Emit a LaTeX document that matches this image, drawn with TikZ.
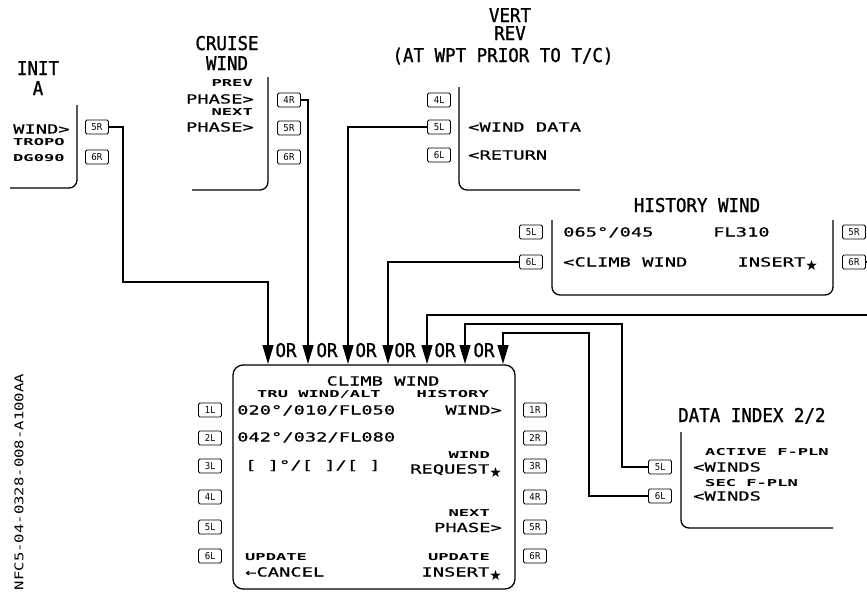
\documentclass[tikz,border=0pt]{standalone}
\usepackage{fontspec}
\usetikzlibrary{arrows.meta}
\newfontfamily\ttlf[FakeStretch=0.92,FakeBold=1.2]{DejaVu Sans Mono}
\newfontfamily\bdyf[FakeStretch=1.5,FakeBold=0.8]{DejaVu Sans Mono}
\newfontfamily\smlf[FakeStretch=1.8]{DejaVu Sans Mono}
\newfontfamily\lskf{DejaVu Sans Condensed}
\newfontfamily\symf{DejaVu Sans}
\newfontfamily\reff[FakeStretch=1.3]{DejaVu Sans Mono}
\newcommand\stx{\raisebox{-3.5pt}{\symf\fontsize{14}{14}\selectfont ★}}
\tikzset{
  ttl/.style={font=\ttlf\fontsize{19}{19}\selectfont, inner sep=0},
  bdy/.style={font=\bdyf\fontsize{12.5}{12.5}\selectfont, inner sep=0},
  sml/.style={font=\smlf\bfseries\fontsize{9.5}{9.5}\selectfont, inner sep=0},
  lsk/.style={draw, rounded corners=1.5pt, line width=0.9pt, minimum width=23pt,
    minimum height=14pt, inner sep=0, font=\lskf\fontsize{9.5}{9.5}\selectfont},
  panel/.style={line width=1.3pt, rounded corners=8pt},
  con/.style={line width=1.2pt},
  arr/.style={line width=1.2pt, -{Triangle[width=11pt,length=19pt]}},
}
\begin{document}
\begin{tikzpicture}[x=1pt,y=-1pt]
\useasboundingbox (0,0) rectangle (867,592);

% ---------- INIT A ----------
\node[ttl, anchor=base] (tInit) at (38,75) {INIT};
\node[ttl, anchor=base] (tInitA) at (38,95) {A};
\draw[panel] (77,105) -- (77,188) -- (10,188);
\node[bdy, anchor=base west] (iWind) at (13,133.5) {WIND>};
\node[sml, anchor=base west] (iTropo) at (13,145.5) {TROPO};
\node[sml, anchor=base west] (iDg) at (13,161.5) {DG090};
\node[lsk] (i5R) at (97,127) {5R};
\node[lsk] (i6R) at (97,157) {6R};

% ---------- CRUISE WIND ----------
\node[ttl, anchor=base] (tCru) at (227,50) {CRUISE};
\node[ttl, anchor=base] (tCruW) at (227,70) {WIND};
\draw[panel] (268,77) -- (268,190) -- (192,190);
\node[sml, anchor=base east] (cPrev) at (253,86.5) {PREV};
\node[bdy, anchor=base east] (cPh1) at (254,103.5) {PHASE>};
\node[sml, anchor=base east] (cNext) at (253,115.5) {NEXT};
\node[bdy, anchor=base east] (cPh2) at (254,131.5) {PHASE>};
\node[lsk] (c4R) at (289,100) {4R};
\node[lsk] (c5R) at (289,128) {5R};
\node[lsk] (c6R) at (289,157) {6R};

% ---------- VERT REV ----------
\node[ttl, anchor=base] (tVert) at (510,22) {VERT};
\node[ttl, anchor=base] (tRev) at (510,40) {REV};
\node[ttl, anchor=base] (tAt) at (503,62) {(AT WPT PRIOR TO T/C)};
\draw[panel] (459,87) -- (459,190) -- (580,190);
\node[lsk] (v4L) at (439,100) {4L};
\node[lsk] (v5L) at (439,127) {5L};
\node[lsk] (v6L) at (439,155) {6L};
\node[bdy, anchor=base west] (vWd) at (468,131.5) {<WIND DATA};
\node[bdy, anchor=base west] (vRet) at (468,159.5) {<RETURN};

% ---------- HISTORY WIND ----------
\node[ttl, anchor=base] (tHist) at (697,212) {HISTORY WIND};
\draw[panel] (552,220) -- (552,295) -- (833,295) -- (833,220);
\node[lsk] (h5L) at (531,232) {5L};
\node[lsk] (h6L) at (531,262) {6L};
\node[lsk] (h5R) at (854,232) {5R};
\node[lsk] (h6R) at (854,262) {6R};
\node[bdy, anchor=base west] (hW) at (563,236.5) {065°/045};
\node[bdy, anchor=base west] (hFl) at (713,236.5) {FL310};
\node[bdy, anchor=base west] (hCl) at (563,266.5) {<CLIMB WIND};
\node[bdy, anchor=base east] (hIns) at (818,266.5) {INSERT\stx};
\coordinate (e2) at (867,262);
\coordinate (e1) at (867,315);

% ---------- DATA INDEX 2/2 ----------
\node[ttl, anchor=base west] (tData) at (678,422) {DATA INDEX 2/2};
\draw[panel] (681,432) -- (681,528) -- (833,528);
\node[sml, anchor=base west] (dAct) at (705,455.5) {ACTIVE F-PLN};
\node[bdy, anchor=base west] (dW1) at (693,471.5) {<WINDS};
\node[sml, anchor=base west] (dSec) at (705,486.5) {SEC F-PLN};
\node[bdy, anchor=base west] (dW2) at (693,500.5) {<WINDS};
\node[lsk] (d5L) at (660,467) {5L};
\node[lsk] (d6L) at (660,496) {6L};

% ---------- CLIMB WIND ----------
\draw[line width=1.3pt, rounded corners=10pt] (233,365) rectangle (515,589);
\node[bdy, anchor=base] (mT) at (383,385.5) {CLIMB WIND};
\node[sml, anchor=base west] (mTru) at (257,397.5) {TRU WIND/ALT};
\node[sml, anchor=base east] (mHis) at (489,397.5) {HISTORY};
\node[bdy, anchor=base west] (m1) at (237,414.5) {020°/010/FL050};
\node[bdy, anchor=base east] (m1r) at (502,414.5) {WIND>};
\node[bdy, anchor=base west] (m2) at (237,441.5) {042°/032/FL080};
\node[bdy, anchor=base west] (m3) at (245,469.5) {[ ]°/[ ]/[ ]};
\node[sml, anchor=base east] (m3s) at (490,458.5) {WIND};
\node[bdy, anchor=base east] (m3r) at (502,473.5) {REQUEST\stx};
\node[sml, anchor=base east] (m5s) at (490,516) {NEXT};
\node[bdy, anchor=base east] (m5r) at (502,532) {PHASE>};
\node[sml, anchor=base west] (m6s) at (245,560.5) {UPDATE};
\node[bdy, anchor=base west] (m6) at (245,576.5) {←CANCEL};
\node[sml, anchor=base east] (m6rs) at (490,560.5) {UPDATE};
\node[bdy, anchor=base east] (m6r) at (502,576.5) {INSERT\stx};
\foreach \i/\y in {1/410,2/438,3/466,4/497,5/527,6/556}{
  \node[lsk] (mL\i) at (210,\y) {\i L};
  \node[lsk] (mR\i) at (535,\y) {\i R};
}

% ---------- arrows into CLIMB WIND ----------
\coordinate (a1) at (268,364);
\coordinate (a2) at (308,364);
\coordinate (a3) at (348,364);
\coordinate (a4) at (388,364);
\coordinate (a5) at (427,364);
\coordinate (a6) at (465,364);
\coordinate (a7) at (503,364);
\foreach \x [count=\k] in {286,327,366,405,445,484}{
  \node[ttl, anchor=base] (or\k) at (\x,357) {OR};
}
\draw[arr] (i5R.east) -| (123,282) -| (a1);
\draw[arr] (c4R.east) -| (a2);
\draw[arr] (v5L.west) -| (a3);
\draw[arr] (h6L.west) -| (a4);
\draw[arr] (e1) -| (a5);
\draw[arr] (d5L.west) -| (622,324) -| (a6);
\draw[arr] (d6L.west) -| (589,333) -| (a7);
\draw[con] (h6R.east) -- (e2);

% ---------- reference code ----------
\node[font=\reff\fontsize{12}{12}\selectfont, inner sep=0, rotate=90] (ref) at (19,482) {NFC5-04-0328-008-A100AA};
\end{tikzpicture}
\end{document}
